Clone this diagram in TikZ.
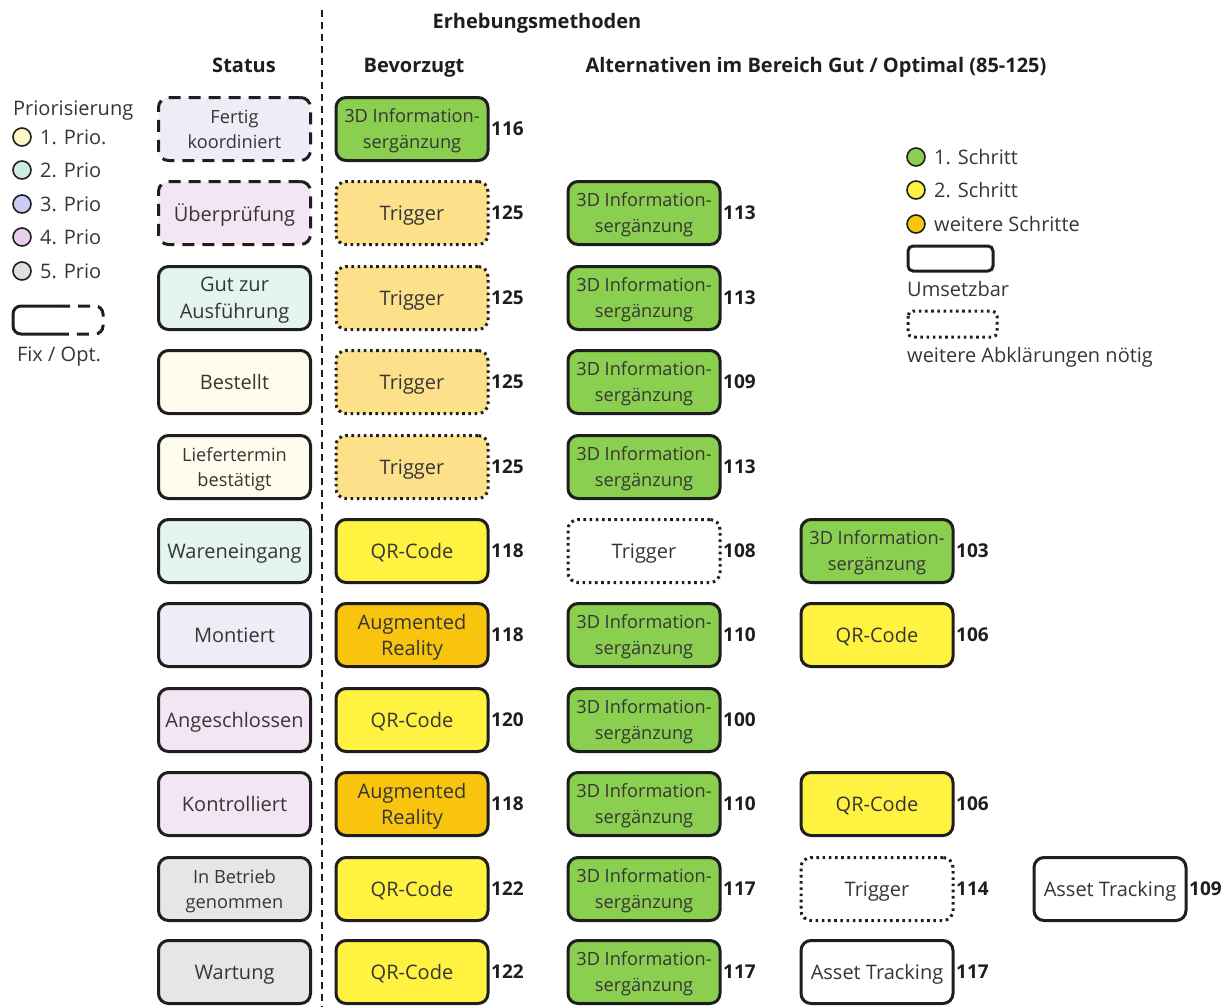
\documentclass[tikz,border=0pt]{standalone}
\usepackage{fontspec}
\setmainfont{Open Sans}
\begin{document}
\definecolor{txt}{HTML}{363636}
\definecolor{edge}{HTML}{1E1E1E}
\definecolor{green1}{HTML}{8BCF50}
\definecolor{qr}{HTML}{FFF240}
\definecolor{ar}{HTML}{F8C40E}
\definecolor{trig}{HTML}{FCE18A}
\definecolor{stLav}{HTML}{EDEDF7}
\definecolor{stPink}{HTML}{F3E5F3}
\definecolor{stTeal}{HTML}{E3F4F1}
\definecolor{stYel}{HTML}{FEFCEC}
\definecolor{stGrey}{HTML}{E6E6E6}
\definecolor{p1}{HTML}{FFF8C6}
\definecolor{p2}{HTML}{CDEDE3}
\definecolor{p3}{HTML}{CBCDF7}
\definecolor{p4}{HTML}{EACCEF}
\definecolor{p5}{HTML}{E0E0E0}
\begin{tikzpicture}[x=1pt,y=-1pt,
  % text depth=0pt keeps descenders from lifting the text inside a box
  box/.style={draw=edge, rounded corners=10pt, line width=3pt, minimum width=152pt,
    minimum height=63pt, align=center, text=txt, inner sep=2pt,
    font=\fontsize{20}{27}\selectfont, text depth=0pt},
  twoA/.style={font=\fontsize{20}{27}\selectfont},
  twoB/.style={font=\fontsize{18.2}{25}\selectfont},
  twoM/.style={font=\fontsize{18.2}{26}\selectfont},
  twoR/.style={font=\fontsize{20}{26}\selectfont},
  optbox/.style={dash pattern=on 12pt off 8pt},
  dotbox/.style={dash pattern=on 2.6pt off 3.6pt},
  grn/.style={box, twoM, fill=green1},
  qrc/.style={box, fill=qr},
  arc/.style={box, twoR, fill=ar},
  trg/.style={box, dotbox, fill=trig},
  trw/.style={box, dotbox, fill=white},
  ast/.style={box, fill=white},
  num/.style={anchor=west, inner sep=1.5pt, font=\fontsize{19}{22}\selectfont\bfseries, text=edge},
  head/.style={font=\fontsize{20}{24}\selectfont\bfseries, text=edge, text depth=0pt},
  lbl/.style={anchor=west, text=txt, inner sep=0pt, font=\fontsize{20}{24}\selectfont, text depth=0pt},
  dot/.style={circle, draw=edge, line width=1.6pt, minimum size=18pt, inner sep=0pt}
]
\useasboundingbox (0,0) rectangle (1231,1007);

% column separator
\draw[edge, line width=1.6pt, dash pattern=on 7pt off 5pt] (322,10) -- (322,1007);

% headings
\node[head] (hErh) at (537,21) {Erhebungsmethoden};
\node[head] (hStat) at (244,65) {Status};
\node[head] (hBev) at (414,65) {Bevorzugt};
\node[head] (hAlt) at (816,65) {Alternativen im Bereich Gut / Optimal (85-125)};

% priority legend
\node[lbl] (lgPrio) at (13,108) {Priorisierung};
\foreach \c/\y/\t [count=\i] in {p1/137/1. Prio., p2/170/2. Prio, p3/204/3. Prio, p4/237/4. Prio, p5/271/5. Prio}{
  \node[dot, fill=\c] (pd\i) at (22,\y) {};
  \node[lbl] (pl\i) at (40,\y) {\t};
}
\draw[edge, line width=3pt, rounded corners=8pt] (58,306) -- (13,306) -- (13,334) -- (58,334);
\draw[edge, line width=3pt, rounded corners=8pt, dash pattern=on 12pt off 8pt] (58,306) -- (103,306) -- (103,334) -- (58,334);
\node[lbl, anchor=center] (lgFix) at (59,354) {Fix / Opt.};

% step legend
\node[dot, fill=green1] (sd1) at (916,157) {};
\node[lbl] (sl1) at (934,157) {1. Schritt};
\node[dot, fill=qr] (sd2) at (916,190) {};
\node[lbl] (sl2) at (934,190) {2. Schritt};
\node[dot, fill=ar] (sd3) at (916,224) {};
\node[lbl] (sl3) at (934,224) {weitere Schritte};
\draw[edge, line width=3pt, rounded corners=5pt] (908,246) rectangle (993,271);
\node[lbl] (lgUm) at (907,289) {Umsetzbar};
\draw[edge, line width=3pt, rounded corners=5pt, dotbox] (908,311) rectangle (997,337);
\node[lbl] (lgAb) at (907,355) {weitere Abklärungen nötig};

% status column
\node[box, optbox, fill=stLav, twoB] (s1) at (234.5,129) {Fertig\\koordiniert};
\node[box, optbox, fill=stPink] (s2) at (234.5,213) {Überprüfung};
\node[box, fill=stTeal, twoA] (s3) at (234.5,298) {Gut zur\\Ausführung};
\node[box, fill=stYel] (s4) at (234.5,382) {Bestellt};
\node[box, fill=stYel, twoB] (s5) at (234.5,467) {Liefertermin\\bestätigt};
\node[box, fill=stTeal] (s6) at (234.5,551) {Wareneingang};
\node[box, fill=stLav] (s7) at (234.5,635) {Montiert};
\node[box, fill=stPink] (s8) at (234.5,720) {Angeschlossen};
\node[box, fill=stPink] (s9) at (234.5,804) {Kontrolliert};
\node[box, fill=stGrey, twoB] (s10) at (234.5,889) {In Betrieb\\genommen};
\node[box, fill=stGrey] (s11) at (234.5,972) {Wartung};

% preferred methods
\node[grn] (b1) at (412,129) {3D Information-\\sergänzung};
\node[trg] (b2) at (412,213) {Trigger};
\node[trg] (b3) at (412,298) {Trigger};
\node[trg] (b4) at (412,382) {Trigger};
\node[trg] (b5) at (412,467) {Trigger};
\node[qrc] (b6) at (412,551) {QR-Code};
\node[arc] (b7) at (412,635) {Augmented\\Reality};
\node[qrc] (b8) at (412,720) {QR-Code};
\node[arc] (b9) at (412,804) {Augmented\\Reality};
\node[qrc] (b10) at (412,889) {QR-Code};
\node[qrc] (b11) at (412,972) {QR-Code};
\foreach \i/\v in {1/116,2/125,3/125,4/125,5/125,6/118,7/118,8/120,9/118,10/122,11/122}
  \node[num] (bn\i) at (b\i.east) {\v};

% first alternative
\node[grn] (a2) at (644,213) {3D Information-\\sergänzung};
\node[grn] (a3) at (644,298) {3D Information-\\sergänzung};
\node[grn] (a4) at (644,382) {3D Information-\\sergänzung};
\node[grn] (a5) at (644,467) {3D Information-\\sergänzung};
\node[trw] (a6) at (644,551) {Trigger};
\node[grn] (a7) at (644,635) {3D Information-\\sergänzung};
\node[grn] (a8) at (644,720) {3D Information-\\sergänzung};
\node[grn] (a9) at (644,804) {3D Information-\\sergänzung};
\node[grn] (a10) at (644,889) {3D Information-\\sergänzung};
\node[grn] (a11) at (644,972) {3D Information-\\sergänzung};
\foreach \i/\v in {2/113,3/113,4/109,5/113,6/108,7/110,8/100,9/110,10/117,11/117}
  \node[num] (an\i) at (a\i.east) {\v};

% second alternative
\node[grn] (c6) at (877,551) {3D Information-\\sergänzung};
\node[qrc] (c7) at (877,635) {QR-Code};
\node[qrc] (c9) at (877,804) {QR-Code};
\node[trw] (c10) at (877,889) {Trigger};
\node[ast] (c11) at (877,972) {Asset Tracking};
\foreach \i/\v in {6/103,7/106,9/106,10/114,11/117}
  \node[num] (cn\i) at (c\i.east) {\v};

% third alternative
\node[ast] (d10) at (1110,889) {Asset Tracking};
\node[num] (dn10) at (d10.east) {109};
\end{tikzpicture}
\end{document}
